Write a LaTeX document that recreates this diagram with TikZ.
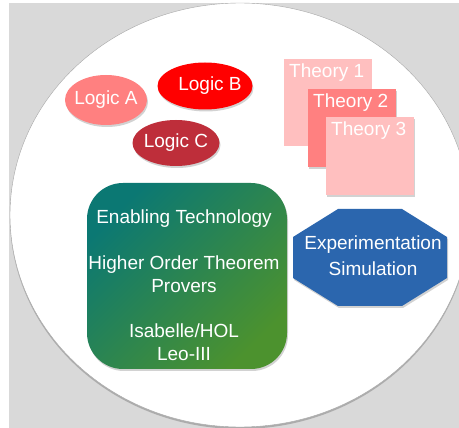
\documentclass[tikz,border=0pt]{standalone}
\usepackage{fontspec}
\setmainfont{Liberation Sans}
\usetikzlibrary{shapes.geometric, shadows, positioning}

\definecolor{bggrey}{HTML}{D9D9D9}
\definecolor{logicA}{HTML}{FF8080}
\definecolor{logicB}{HTML}{FF0000}
\definecolor{logicC}{HTML}{BE2E3A}
\definecolor{thlight}{HTML}{FFBFBF}
\definecolor{thdark}{HTML}{FF8080}
\definecolor{techteal}{HTML}{0B7873}
\definecolor{techgreen}{HTML}{4C922E}
\definecolor{simblue}{HTML}{2B66AE}

\begin{document}
\begin{tikzpicture}[x=1pt, y=-1pt,
    every node/.style={text=white, font=\fontsize{19}{23}\selectfont},
    soft/.style={drop shadow={shadow xshift=1pt, shadow yshift=-2pt, opacity=0.35}},
    logic/.style={ellipse, inner sep=0pt, soft},
    theory/.style={rectangle, inner sep=0pt, anchor=north west, minimum width=88pt},
    tech/.style={rectangle, rounded corners=36pt, minimum width=200pt, minimum height=186pt,
        top color=techteal, bottom color=techgreen, shading angle=45, soft}]
    \useasboundingbox (0,0) rectangle (459,428);

    % Background and frame
    \fill[bggrey] (9,3) rectangle (459,428);
    \draw[black!35, fill=white, drop shadow={shadow xshift=0pt, shadow yshift=-2pt, opacity=0.5}]
        (240,215) ellipse [x radius=230, y radius=212];

    % Define logics
    \node[logic, fill=logicA, minimum width=82pt, minimum height=50pt,
        label={center:Logic A}] (la) at (106,100) {};
    \node[logic, fill=logicB, minimum width=95pt, minimum height=47pt,
        label={[xshift=5pt]center:Logic B}] (lb) at (205,86) {};
    \node[logic, fill=logicC, minimum width=87pt, minimum height=46pt,
        label={center:Logic C}] (lc) at (176,143) {};

    % Define theories
    \node[theory, fill=thlight, minimum height=87pt,
        label={[anchor=north west, inner sep=5pt]north west:Theory 1}] (t1) at (284,59) {};
    \node[theory, fill=thdark, minimum height=78pt, soft,
        label={[anchor=north west, inner sep=5pt]north west:Theory 2}] (t2) at (308,89) {};
    \node[theory, fill=thlight, minimum height=78pt, soft,
        label={[anchor=north west, inner sep=5pt]north west:Theory 3}] (t3) at (326,117) {};

    % Enabling technology
    \node[tech] (tech) at (187,276) {};
    \node[align=center] (techtext) at (184,285)
        {Enabling Technology\\[23pt]Higher Order Theorem\\Provers\\[22pt]Isabelle/HOL\\Leo-III};

    % Experimentation
    \fill[simblue, soft] (338,209) -- (402,209) -- (447,237) -- (447,278)
        -- (402,306) -- (338,306) -- (293,278) -- (293,237) -- cycle;
    \node[align=center] (sim) at (373,256) {Experimentation\\[3pt]Simulation};
\end{tikzpicture}
\end{document}
